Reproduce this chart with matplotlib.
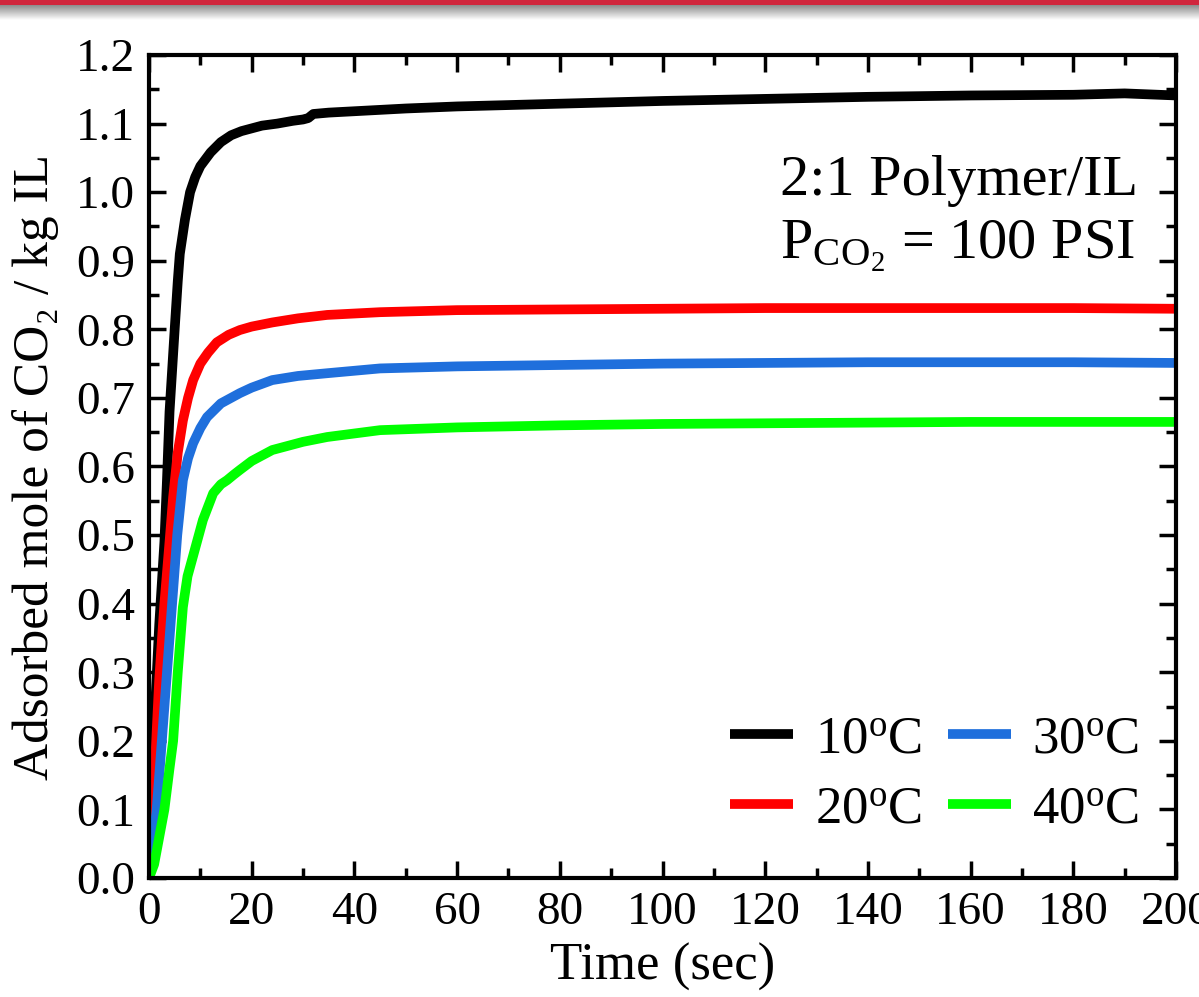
import numpy as np
import matplotlib
matplotlib.use("Agg")
import matplotlib.pyplot as plt
from matplotlib.patches import Rectangle

plt.rcParams['font.family'] = ['Liberation Serif', 'DejaVu Serif']
plt.rcParams['mathtext.fontset'] = 'custom'
plt.rcParams['mathtext.rm'] = 'Liberation Serif'
plt.rcParams['mathtext.it'] = 'Liberation Serif:italic'

# ---- data ----
t_10 = [0, 0.5, 1, 2, 3, 3.5, 4, 5, 5.6, 6, 7, 8, 9, 10, 12, 14, 16, 18, 20, 22,
        25, 28, 30, 31, 32, 35, 40, 50, 60, 80, 100, 120, 140, 160, 180, 190, 200]
y_10 = [0, 0.12, 0.22, 0.37, 0.49, 0.58, 0.68, 0.80, 0.87, 0.91, 0.96, 1.0, 1.022,
        1.038, 1.058, 1.073, 1.083, 1.089, 1.093, 1.097, 1.10, 1.104, 1.106, 1.108,
        1.114, 1.116, 1.118, 1.122, 1.125, 1.129, 1.133, 1.136, 1.139, 1.141,
        1.142, 1.144, 1.141]

t_20 = [0, 1, 2, 3, 4, 4.7, 5.6, 6.6, 7.6, 8.6, 10, 11.5, 13.2, 15.5, 17.7, 20, 24,
        29, 34.7, 45, 60, 80, 100, 120, 140, 160, 180, 200]
y_20 = [0, 0.14, 0.29, 0.40, 0.49, 0.555, 0.62, 0.667, 0.70, 0.726, 0.75, 0.766,
        0.781, 0.792, 0.799, 0.804, 0.81, 0.816, 0.821, 0.825, 0.828, 0.829, 0.830,
        0.831, 0.831, 0.831, 0.831, 0.830]

t_30 = [0, 0.5, 1.5, 2.5, 3.5, 4.5, 5.5, 6.6, 7.6, 8.6, 10, 11.3, 14, 17.7, 20,
        24, 29, 34.7, 45, 60, 80, 100, 120, 140, 160, 180, 200]
y_30 = [0, 0.03, 0.1, 0.2, 0.3, 0.4, 0.5, 0.58, 0.612, 0.634, 0.656, 0.672, 0.692,
        0.707, 0.715, 0.726, 0.732, 0.736, 0.743, 0.746, 0.748, 0.750, 0.751,
        0.752, 0.752, 0.752, 0.751]

t_40 = [0, 1, 2, 3, 4, 4.7, 5.6, 6.6, 7.5, 8.6, 10.5, 12.5, 14, 15.2, 16.5, 17.7,
        20, 24, 30, 34.7, 45, 60, 80, 100, 120, 140, 160, 180, 200]
y_40 = [0, 0.02, 0.06, 0.1, 0.16, 0.2, 0.3, 0.395, 0.44, 0.47, 0.522, 0.561, 0.574,
        0.58, 0.588, 0.595, 0.608, 0.624, 0.636, 0.643, 0.653, 0.657, 0.66, 0.662,
        0.663, 0.664, 0.665, 0.665, 0.665]

series_labels = [r'10$^{\mathregular{o}}$C', r'20$^{\mathregular{o}}$C',
                 r'30$^{\mathregular{o}}$C', r'40$^{\mathregular{o}}$C']
series_colors = ['#000000', '#ff0000', '#1f6fdc', '#00ff00']

x_ticks = list(range(0, 201, 20))
y_ticks = [round(0.1 * i, 1) for i in range(13)]

# ---- figure ----
W, H = 1199, 997
fig = plt.figure(figsize=(W / 100, H / 100), dpi=100)

# top banner: red stripe + grey shadow gradient
fig.patches.append(Rectangle((0, 1 - 5 / H), 1, 5 / H, transform=fig.transFigure,
                             facecolor='#d0263d', edgecolor='none', zorder=0))
grad = np.linspace(0.55, 1.0, 64).reshape(-1, 1)
banner_ax = fig.add_axes([0, 1 - 20 / H, 1, 15 / H])
banner_ax.imshow(np.dstack([grad, grad, grad]), aspect='auto', extent=[0, 1, 0, 1],
                 origin='upper')
banner_ax.set_axis_off()

ax = fig.add_axes([149 / W, 1 - 878 / H, (1176 - 149) / W, (878 - 55) / H])

data = [(t_10, y_10), (t_20, y_20), (t_30, y_30), (t_40, y_40)]
for (tt, yy), lab, col in zip(data, series_labels, series_colors):
    ax.plot(tt, yy, color=col, lw=7, label=lab, solid_capstyle='butt',
            solid_joinstyle='round')

ax.set_xlim(0, 200)
ax.set_ylim(0, 1.2)
ax.set_xticks(x_ticks)
ax.set_yticks(y_ticks)
ax.set_yticklabels([f'{v:.1f}' for v in y_ticks])
ax.set_xticks(np.arange(10, 200, 20), minor=True)
ax.set_yticks(np.arange(0.05, 1.2, 0.1), minor=True)

for s in ax.spines.values():
    s.set_linewidth(3)
ax.tick_params(which='major', direction='in', length=12, width=2.5,
               top=True, right=True, labelsize=34, pad=10)
ax.tick_params(which='minor', direction='in', length=7, width=2.5,
               top=True, right=True)
for lbl in ax.get_xticklabels() + ax.get_yticklabels():
    lbl.set_clip_on(False)

ax.set_xlabel('Time (sec)', fontsize=38, labelpad=6)
ax.set_ylabel('Adsorbed mole of CO\u2082 / kg IL', fontsize=37, labelpad=12)

ax.text(0.614, 0.83, '2:1 Polymer/IL', transform=ax.transAxes, fontsize=42,
        ha='left', va='baseline')
ax.text(0.614, 0.753, r'P$_{\mathregular{CO_2}}$ = 100 PSI', transform=ax.transAxes,
        fontsize=42, ha='left', va='baseline')

ax.legend(loc='lower right', bbox_to_anchor=(0.985, 0.028), ncol=2, frameon=False,
          fontsize=38, handlelength=1.2, handletextpad=0.4, columnspacing=0.5,
          labelspacing=0.42, borderaxespad=0)

fig.savefig('out.png', dpi=100)
